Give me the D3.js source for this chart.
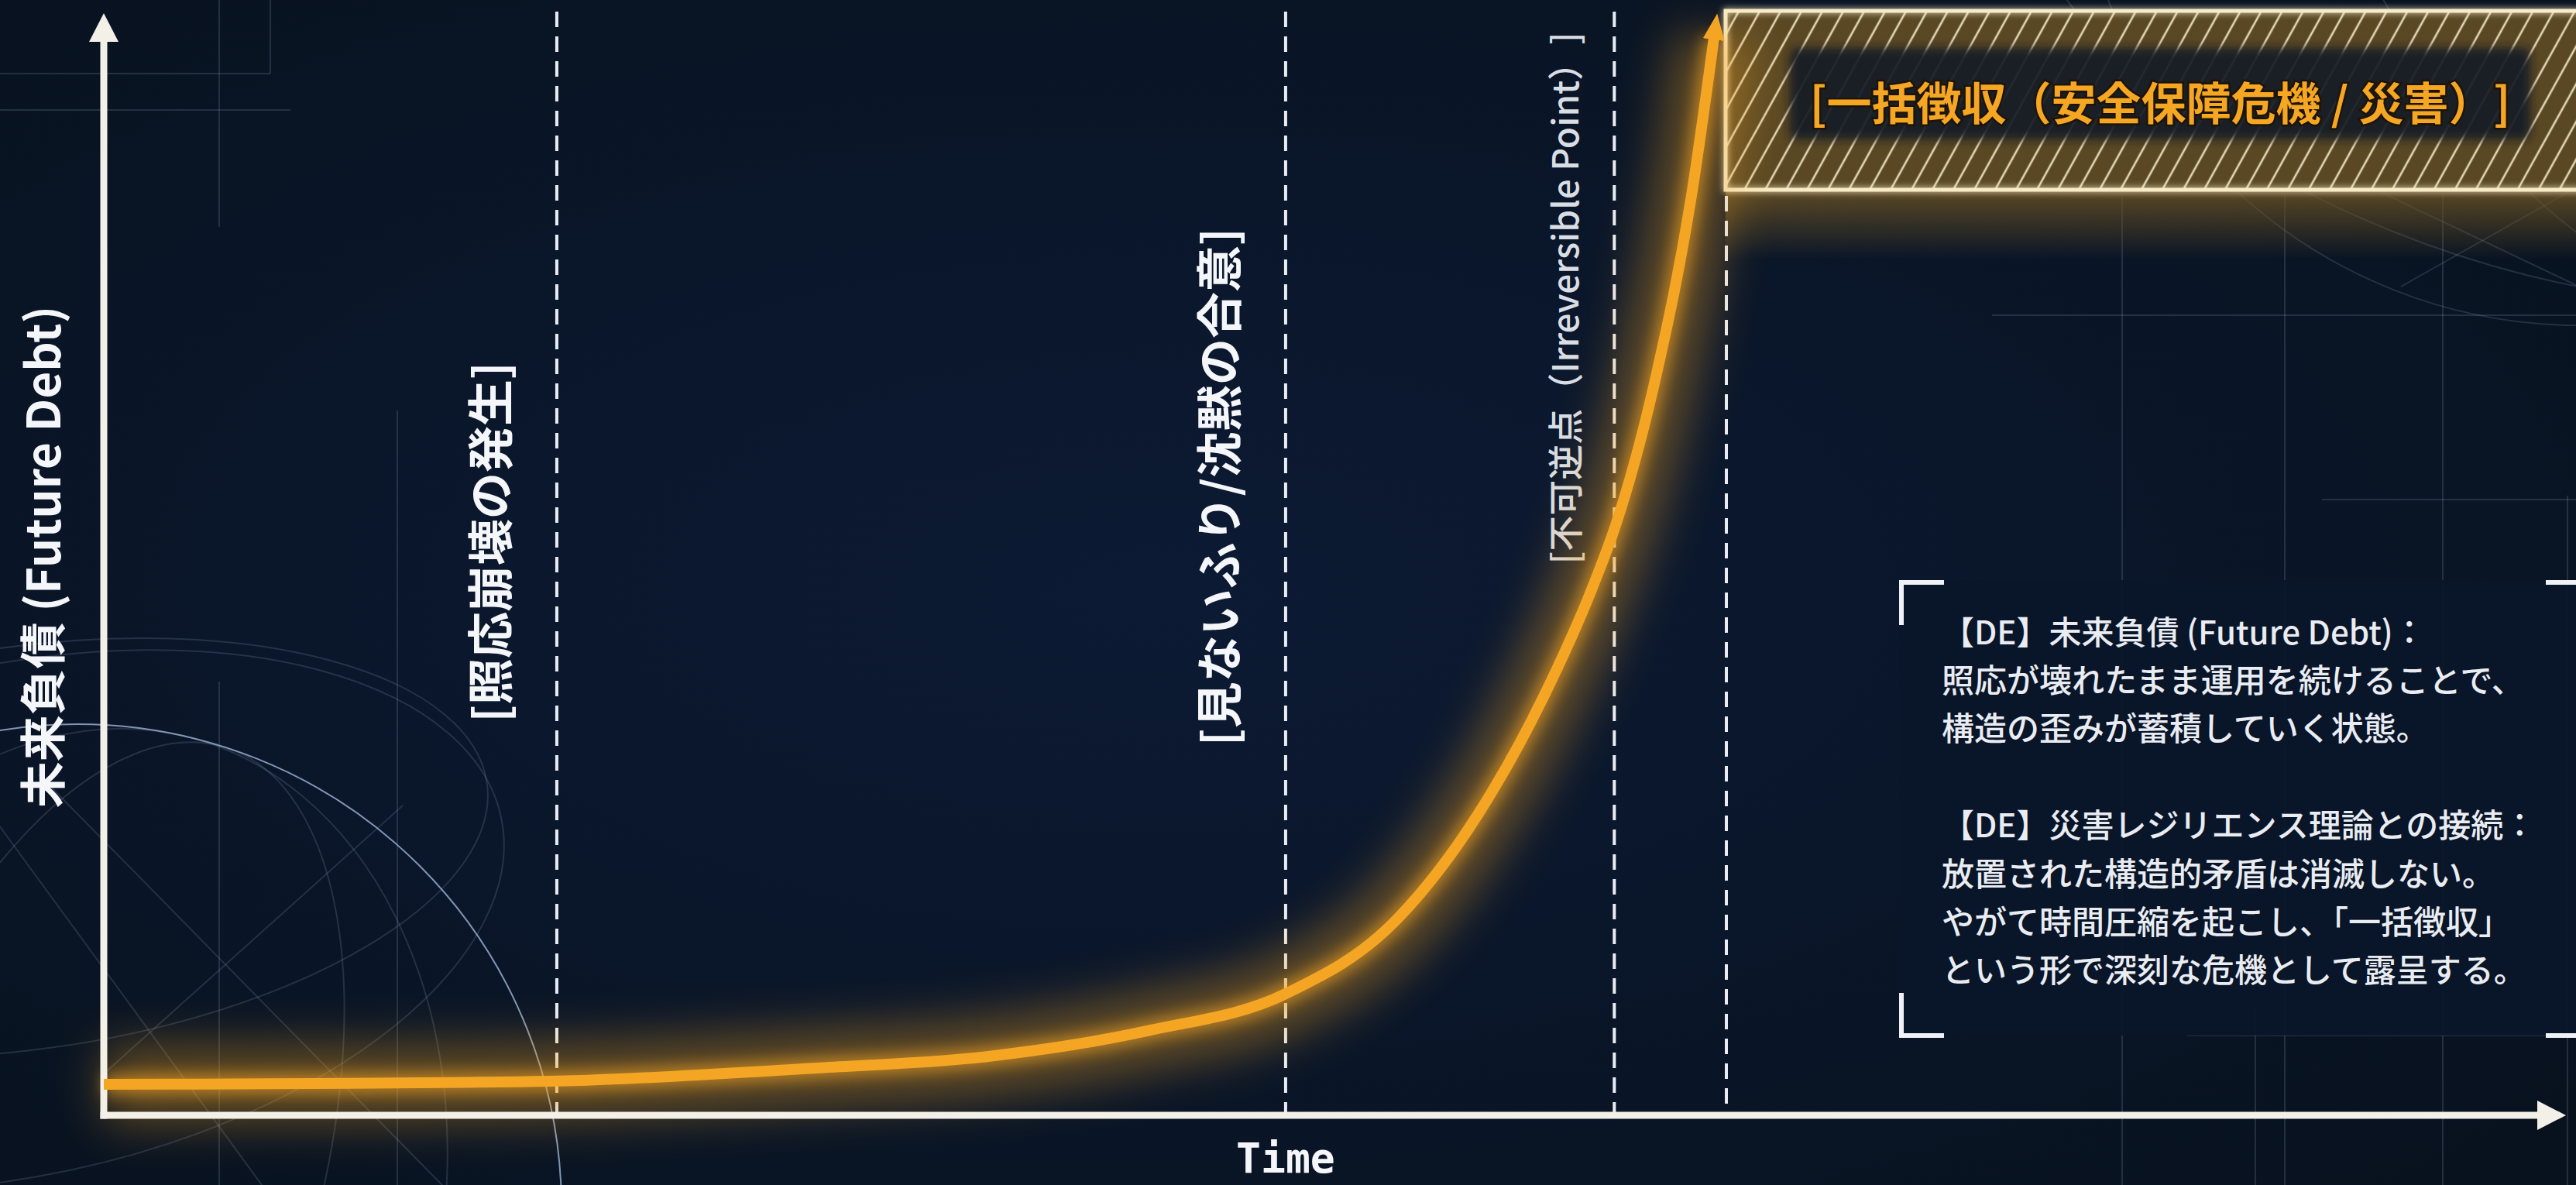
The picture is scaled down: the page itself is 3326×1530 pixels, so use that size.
<!DOCTYPE html>
<html><head><meta charset="utf-8">
<script src="https://cdn.jsdelivr.net/npm/d3@7"></script>
<style>
html,body{margin:0;padding:0;background:#0a1529;overflow:hidden}
svg{display:block}
.notrim{text-spacing-trim:space-all}
</style></head>
<body>
<svg id="chart" width="3326" height="1530"></svg>
<script>
// ---------- data ----------
const curveTime = [0, 10, 18.4, 29.1, 35.8, 42.5, 48.0, 52.5, 55.8, 58.5, 60.5, 61.4, 63.0, 64.5, 65.4];
const curveDebt = [2.8, 2.9, 3.1, 4.3, 5.3, 7.7, 11.0, 17.7, 27.2, 38.0, 48.0, 53.4, 66.5, 83.5, 97.6];
const phaseTimes = [18.4, 48.0, 61.35];
const phaseLabels = ["[照応崩壊の発生]", "[見ないふり/沈黙の合意]", "[不可逆点（Irreversible Point）]"];
const collectionStart = 65.87;
const collectionFloor = 83.8;
const collectionLabel = "[一括徴収（安全保障危機 / 災害）]";
const yAxisLabel = "未来負債 (Future Debt)";
const xAxisLabel = "Time";
const noteLines = [
  "【DE】未来負債 (Future Debt)：",
  "照応が壊れたまま運用を続けることで、",
  "構造の歪みが蓄積していく状態。",
  "",
  "【DE】災害レジリエンス理論との接続：",
  "放置された構造的矛盾は消滅しない。",
  "やがて時間圧縮を起こし、「一括徴収」",
  "という形で深刻な危機として露呈する。"
];

// ---------- setup ----------
const W = 3326, H = 1530;
const svg = d3.select("#chart");
const x = d3.scaleLinear().domain([0, 100]).range([134, 3313]);
const y = d3.scaleLinear().domain([0, 100]).range([1440, 14]);
const JP = "'Noto Sans CJK JP','Noto Sans',sans-serif";

const defs = svg.append("defs");
const bg = defs.append("radialGradient").attr("id", "bgGrad")
  .attr("cx", "45%").attr("cy", "50%").attr("r", "70%");
bg.append("stop").attr("offset", "0%").attr("stop-color", "#0c1a34");
bg.append("stop").attr("offset", "100%").attr("stop-color", "#08121f");

function blurFilter(id, sd) {
  const f = defs.append("filter").attr("id", id)
    .attr("filterUnits", "userSpaceOnUse").attr("x", -200).attr("y", -200)
    .attr("width", W + 400).attr("height", H + 400);
  f.append("feGaussianBlur").attr("stdDeviation", sd);
}
blurFilter("blurBig", 30);
blurFilter("blurMid", 9);
blurFilter("blurSmall", 6);
const sf = defs.append("filter").attr("id", "softGlow")
  .attr("filterUnits", "userSpaceOnUse").attr("x", -50).attr("y", -50)
  .attr("width", W + 100).attr("height", H + 100);
sf.append("feGaussianBlur").attr("in", "SourceGraphic").attr("stdDeviation", 4).attr("result", "b");
const sm = sf.append("feMerge");
sm.append("feMergeNode").attr("in", "b");
sm.append("feMergeNode").attr("in", "SourceGraphic");

const hatch = defs.append("pattern").attr("id", "hatch")
  .attr("patternUnits", "userSpaceOnUse").attr("width", 23.6).attr("height", 40)
  .attr("patternTransform", "rotate(29)");
hatch.append("line").attr("x1", 11.8).attr("x2", 11.8).attr("y1", -5).attr("y2", 45)
  .attr("stroke", "#f3e7c6").attr("stroke-width", 2.6);

const belowGlow = defs.append("linearGradient").attr("id", "belowGlow")
  .attr("x1", 0).attr("x2", 0).attr("y1", 0).attr("y2", 1);
belowGlow.append("stop").attr("offset", "0%").attr("stop-color", "#6a5224").attr("stop-opacity", 0.85);
belowGlow.append("stop").attr("offset", "100%").attr("stop-color", "#6a5224").attr("stop-opacity", 0);

defs.append("marker").attr("id", "curveArrow")
  .attr("markerUnits", "userSpaceOnUse").attr("viewBox", "0 -14 34 28")
  .attr("markerWidth", 34).attr("markerHeight", 28)
  .attr("refX", 3).attr("refY", 0).attr("orient", "auto")
  .append("path").attr("d", "M0,-14L34,0L0,14Z").attr("fill", "#f5a524");

// ---------- background ----------
svg.append("rect").attr("width", W).attr("height", H).attr("fill", "url(#bgGrad)");

const deco = svg.append("g").attr("fill", "none").attr("stroke", "#8fa3c4")
  .attr("stroke-opacity", 0.2).attr("stroke-width", 2);
const decoLines = [
  [0, 95, 349, 95], [349, 0, 349, 95], [0, 142, 375, 142], [283, 0, 283, 293],
  [283, 880, 283, 1530], [513, 530, 513, 1530],
  [2740, 250, 2740, 1530], [2950, 250, 2950, 1530], [3154, 250, 3154, 1530], [3315, 640, 3315, 1530],
  [2572, 407, 3326, 407], [2998, 645, 3326, 645], [2824, 1337, 3287, 1337], [2912, 1300, 2912, 1530]
];
deco.selectAll("line").data(decoLines).join("line")
  .attr("x1", d => d[0]).attr("y1", d => d[1]).attr("x2", d => d[2]).attr("y2", d => d[3]);
// globe bottom-left
const g1 = deco.append("g").attr("transform", "translate(100,1560)");
g1.append("circle").attr("r", 625).attr("stroke-opacity", 0.9);
g1.append("ellipse").attr("rx", 640).attr("ry", 330).attr("transform", "rotate(-12) translate(0,-380)");
g1.append("ellipse").attr("rx", 600).attr("ry", 260).attr("transform", "rotate(-8) translate(0,-470)");
g1.append("ellipse").attr("rx", 300).attr("ry", 625).attr("transform", "rotate(18)");
g1.append("ellipse").attr("rx", 470).attr("ry", 625).attr("transform", "rotate(12)");
g1.append("line").attr("x1", -50).attr("y1", -560).attr("x2", 520).attr("y2", 20);
g1.append("line").attr("x1", 30).attr("y1", -170).attr("x2", 420).attr("y2", -520);
g1.append("line").attr("x1", -120).attr("y1", -520).attr("x2", 260).attr("y2", 0);
// globe top-right
const g2 = deco.append("g").attr("transform", "translate(3330,-230)");
g2.append("circle").attr("r", 650);
g2.append("ellipse").attr("rx", 660).attr("ry", 320).attr("transform", "rotate(20) translate(0,260)");
g2.append("ellipse").attr("rx", 330).attr("ry", 660).attr("transform", "rotate(-25)");
g2.append("line").attr("x1", -420).attr("y1", 400).attr("x2", 0).attr("y2", 600);
g2.append("line").attr("x1", -230).attr("y1", 600).attr("x2", 0).attr("y2", 470);

// ---------- collection box ----------
const bx0 = x(collectionStart), by0 = y(100), by1 = y(collectionFloor);
svg.append("rect").attr("x", bx0).attr("y", by1).attr("width", W - bx0 + 20).attr("height", 90)
  .attr("fill", "url(#belowGlow)");
svg.append("rect").attr("x", bx0).attr("y", by0).attr("width", W - bx0 + 20).attr("height", by1 - by0)
  .attr("fill", "#5a4824");
svg.append("rect").attr("x", bx0).attr("y", by0).attr("width", W - bx0 + 20).attr("height", by1 - by0)
  .attr("fill", "url(#hatch)").attr("opacity", 0.9);
svg.append("rect").attr("x", bx0).attr("y", by0).attr("width", W - bx0 + 20).attr("height", by1 - by0)
  .attr("fill", "none").attr("stroke", "#f8ecc8").attr("stroke-width", 5).attr("filter", "url(#softGlow)");
const bandCx = (bx0 + W) / 2 + 12;
svg.append("rect").attr("x", bandCx - 478).attr("y", 62).attr("width", 956).attr("height", 118)
  .attr("rx", 10).attr("fill", "#161b26").attr("opacity", 0.93).attr("filter", "url(#blurSmall)");
svg.append("text").attr("class", "notrim").attr("x", bandCx).attr("y", 130)
  .attr("text-anchor", "middle").attr("dominant-baseline", "central")
  .attr("font-family", JP).attr("font-weight", 700).attr("font-size", 58)
  .attr("fill", "#f5a623").attr("stroke", "#1c1407").attr("stroke-width", 5)
  .attr("paint-order", "stroke").text(collectionLabel);

// ---------- dashed phase lines ----------
const dashes = svg.append("g").attr("stroke", "#e9edf3").attr("stroke-width", 4)
  .attr("stroke-dasharray", "20,12");
dashes.selectAll("line.p").data(phaseTimes).join("line").attr("class", "p")
  .attr("x1", d => x(d)).attr("x2", d => x(d)).attr("y1", y(100) + 1).attr("y2", y(0));
dashes.append("line").attr("x1", bx0 + 1).attr("x2", bx0 + 1).attr("y1", by1 + 8).attr("y2", y(0));

// phase labels (layout: offset from line, vertical centre in value units, size)
const labelLayout = [
  {dx: -89, v: 51.9, size: 60, weight: 700, fill: "#f4f6f9"},
  {dx: -89, v: 56.9, size: 60, weight: 700, fill: "#f4f6f9"},
  {dx: -66, v: 74.0, size: 46, weight: 500, fill: "#d9dde4"}
];
svg.append("g").selectAll("text").data(phaseLabels).join("text")
  .attr("class", "notrim")
  .attr("transform", (d, i) => `translate(${x(phaseTimes[i]) + labelLayout[i].dx},${y(labelLayout[i].v)}) rotate(-90)`)
  .attr("text-anchor", "middle").attr("dominant-baseline", "central")
  .attr("font-family", JP).attr("font-size", (d, i) => labelLayout[i].size)
  .attr("font-weight", (d, i) => labelLayout[i].weight)
  .attr("fill", (d, i) => labelLayout[i].fill).text(d => d);

// ---------- curve glow ----------
const pts = curveTime.map((t, i) => [t, curveDebt[i]]);
const line = d3.line().x(d => x(d[0])).y(d => y(d[1])).curve(d3.curveMonotoneX);
svg.append("path").attr("d", line(pts)).attr("fill", "none").attr("stroke", "#f5a524")
  .attr("stroke-width", 100).attr("opacity", 0.38).attr("filter", "url(#blurBig)");
svg.append("path").attr("d", line(pts)).attr("fill", "none").attr("stroke", "#f5a524")
  .attr("stroke-width", 28).attr("opacity", 0.55).attr("filter", "url(#blurMid)");

// ---------- axes ----------
const axisCol = "#f3f0e8";
const ax = svg.append("g");
ax.append("line").attr("x1", x(0)).attr("x2", x(0)).attr("y1", y(0) + 4.5).attr("y2", y(100) + 30)
  .attr("stroke", axisCol).attr("stroke-width", 9);
ax.append("path").attr("d", `M${x(0)},${y(100) + 3}L${x(0) - 19},${y(100) + 40}L${x(0) + 19},${y(100) + 40}Z`)
  .attr("fill", axisCol);
ax.append("line").attr("x1", x(0) - 4.5).attr("x2", x(100) - 30).attr("y1", y(0)).attr("y2", y(0))
  .attr("stroke", axisCol).attr("stroke-width", 9);
ax.append("path").attr("d", `M${x(100)},${y(0)}L${x(100) - 37},${y(0) - 19}L${x(100) - 37},${y(0) + 19}Z`)
  .attr("fill", axisCol);

// ---------- curve ----------
svg.append("path").attr("d", line(pts)).attr("fill", "none").attr("stroke", "#f5a524")
  .attr("stroke-width", 14).attr("stroke-linecap", "butt").attr("marker-end", "url(#curveArrow)");

// axis labels
svg.append("text").attr("transform", `translate(51,${y(50) - 8}) rotate(-90)`)
  .attr("text-anchor", "middle").attr("dominant-baseline", "central")
  .attr("font-family", JP).attr("font-weight", 700).attr("font-size", 60)
  .attr("fill", "#f4f6f9").text(yAxisLabel);
svg.append("text").attr("x", x(48)).attr("y", 1514).attr("text-anchor", "middle")
  .attr("font-family", "'DejaVu Sans Mono',monospace").attr("font-weight", 700).attr("font-size", 53)
  .attr("fill", "#f4f6f9").text(xAxisLabel);

// ---------- notes panel ----------
const panel = svg.append("g");
panel.append("rect").attr("x", 2452).attr("y", 749).attr("width", 900).attr("height", 588)
  .attr("fill", "#0a1529").attr("opacity", 0.93);
const br = panel.append("g").attr("fill", "none").attr("stroke", "#eef1f5").attr("stroke-width", 6);
br.append("path").attr("d", "M2455,807V752H2510");
br.append("path").attr("d", "M2455,1282V1337H2510");
br.append("path").attr("d", "M3287,752H3333V807");
br.append("path").attr("d", "M3287,1337H3333V1282");
panel.append("g").selectAll("text").data(noteLines).join("text")
  .attr("x", 2507).attr("y", (d, i) => 813 + i * 62.4).attr("dominant-baseline", "central")
  .attr("font-family", JP).attr("font-weight", 500).attr("font-size", 42)
  .attr("fill", "#e9ecf1").text(d => d);
</script>
</body></html>
